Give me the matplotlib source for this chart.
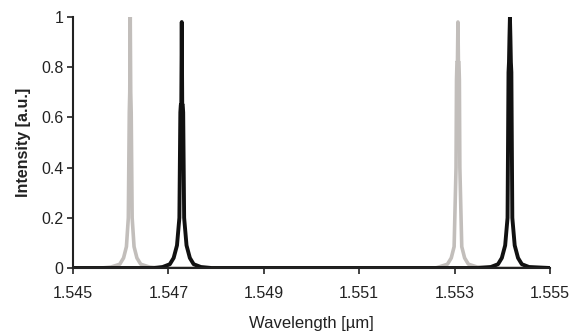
import matplotlib
matplotlib.use("Agg")
import matplotlib.pyplot as plt

# Grey spectrum (shorter-wavelength pair)
grey_wl = [1.5450, 1.5456, 1.54580, 1.54598, 1.54606, 1.54612, 1.54616, 1.54618, 1.54619, 1.54620,
           1.54621, 1.54622, 1.54624, 1.54628, 1.54634, 1.54642, 1.5466, 1.5468,
           1.5520, 1.5526, 1.55267, 1.55285, 1.55293, 1.55299, 1.55303, 1.55304, 1.55305, 1.55306,
           1.55307, 1.55308, 1.55309, 1.55310, 1.55311, 1.55315, 1.55321, 1.55329, 1.55347, 1.5540, 1.5550]
grey_int = [0.0, 0.0, 0.004, 0.015, 0.04, 0.085, 0.2, 0.62, 0.7, 1.0,
            0.7, 0.62, 0.2, 0.085, 0.04, 0.015, 0.004, 0.0,
            0.0, 0.0, 0.004, 0.015, 0.04, 0.085, 0.4, 0.75, 0.82, 0.82, 0.98,
            0.82, 0.82, 0.75, 0.4, 0.085, 0.04, 0.015, 0.004, 0.0, 0.0]

# Black spectrum (longer-wavelength pair)
black_wl = [1.5450, 1.5467, 1.54688, 1.54703, 1.54711, 1.54718, 1.54723, 1.54725, 1.54726, 1.54727, 1.54728,
            1.54729, 1.54730, 1.54731, 1.54733, 1.54738, 1.54745, 1.54753, 1.54768, 1.5479,
            1.5535, 1.55376, 1.55391, 1.55399, 1.55406, 1.55411, 1.55413, 1.55414, 1.55415, 1.55416,
            1.55417, 1.55418, 1.55419, 1.55421, 1.55426, 1.55433, 1.55441, 1.55456, 1.5550]
black_int = [0.0, 0.0, 0.004, 0.015, 0.04, 0.09, 0.2, 0.62, 0.65, 0.65, 0.98,
             0.65, 0.65, 0.62, 0.2, 0.09, 0.04, 0.015, 0.004, 0.0,
             0.0, 0.004, 0.015, 0.04, 0.09, 0.2, 0.78, 0.82, 0.92, 1.0,
             0.92, 0.82, 0.78, 0.2, 0.09, 0.04, 0.015, 0.004, 0.0]

x_ticks = [1.545, 1.547, 1.549, 1.551, 1.553, 1.555]
y_ticks = [0, 0.2, 0.4, 0.6, 0.8, 1]
y_ticklabels = ["0", "0.2", "0.4", "0.6", "0.8", "1"]

plt.rcParams['font.family'] = ['Liberation Sans', 'DejaVu Sans']

fig = plt.figure(figsize=(5.73, 3.36), dpi=100)
ax = fig.add_axes([73/573, 1 - 268/336, (550-73)/573, (268-17)/336])

ax.plot(grey_wl, grey_int, color='#c2bebb', lw=2.6, solid_joinstyle='round')
ax.plot(black_wl, black_int, color='#111111', lw=2.8, solid_joinstyle='round')

ax.set_xlim(1.545, 1.555)
ax.set_ylim(0, 1)
ax.set_xticks(x_ticks)
ax.set_xticklabels([f"{t:.3f}" for t in x_ticks])
ax.set_yticks(y_ticks)
ax.set_yticklabels(y_ticklabels)

for s in ['top', 'right']:
    ax.spines[s].set_visible(False)
for s in ['left', 'bottom']:
    ax.spines[s].set_linewidth(1.5)
    ax.spines[s].set_color('#222222')

ax.tick_params(axis='x', direction='out', length=4, width=1.2, labelsize=11.5, pad=9, colors='#222222')
ax.tick_params(axis='y', direction='out', length=4, width=1.2, labelsize=11.5, pad=3, colors='#222222')

ax.set_xlabel("Wavelength [µm]", fontsize=12, labelpad=11, color='#222222')
ax.set_ylabel("Intensity [a.u.]", fontsize=11.5, fontweight='bold', labelpad=7, color='#222222')

fig.savefig("out.png", dpi=100)
